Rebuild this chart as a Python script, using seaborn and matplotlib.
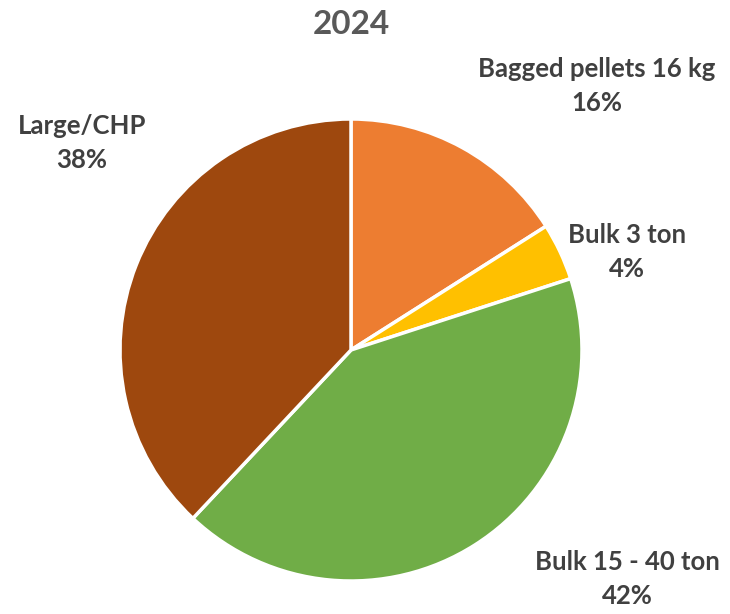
import matplotlib
matplotlib.use("Agg")
import matplotlib.pyplot as plt
import seaborn as sns

# data
categories = ["Bagged pellets 16 kg", "Bulk 3 ton", "Bulk 15 - 40 ton", "Large/CHP"]
shares = [16, 4, 42, 38]
colors = ["#ED7D31", "#FFC000", "#70AD47", "#9E480E"]
title = "2024"

sns.set_theme(style="white")
plt.rcParams["font.family"] = ["Lato", "DejaVu Sans"]

fig = plt.figure(figsize=(7.3, 6.14), dpi=100)
ax = fig.add_axes([0, 0, 1, 1])
ax.set_xlim(0, 730)
ax.set_ylim(614, 0)
ax.axis("off")

# pie in its own axes, placed to match the reference circle
cx, cy, r = 351, 350, 231
pax = fig.add_axes([(cx - r) / 730, (614 - cy - r) / 614, 2 * r / 730, 2 * r / 614])
pax.pie(shares, colors=colors, startangle=90, counterclock=False,
        wedgeprops=dict(edgecolor="white", linewidth=2.5))
pax.set_xlim(-1, 1)
pax.set_ylim(-1, 1)
pax.axis("off")

txt_color = "#404040"
label_pos = [(597, 86), (627, 252), (627, 579), (82, 143)]
for name, val, (x, y) in zip(categories, shares, label_pos):
    ax.text(x, y, f"{name}\n{val}%", ha="center", va="center",
            fontsize=18.5, fontweight="bold", color=txt_color, linespacing=1.5)

ax.text(351, 24, title, ha="center", va="center", fontsize=24,
        fontweight="bold", color="#595959")

fig.savefig("out.png", dpi=100)
